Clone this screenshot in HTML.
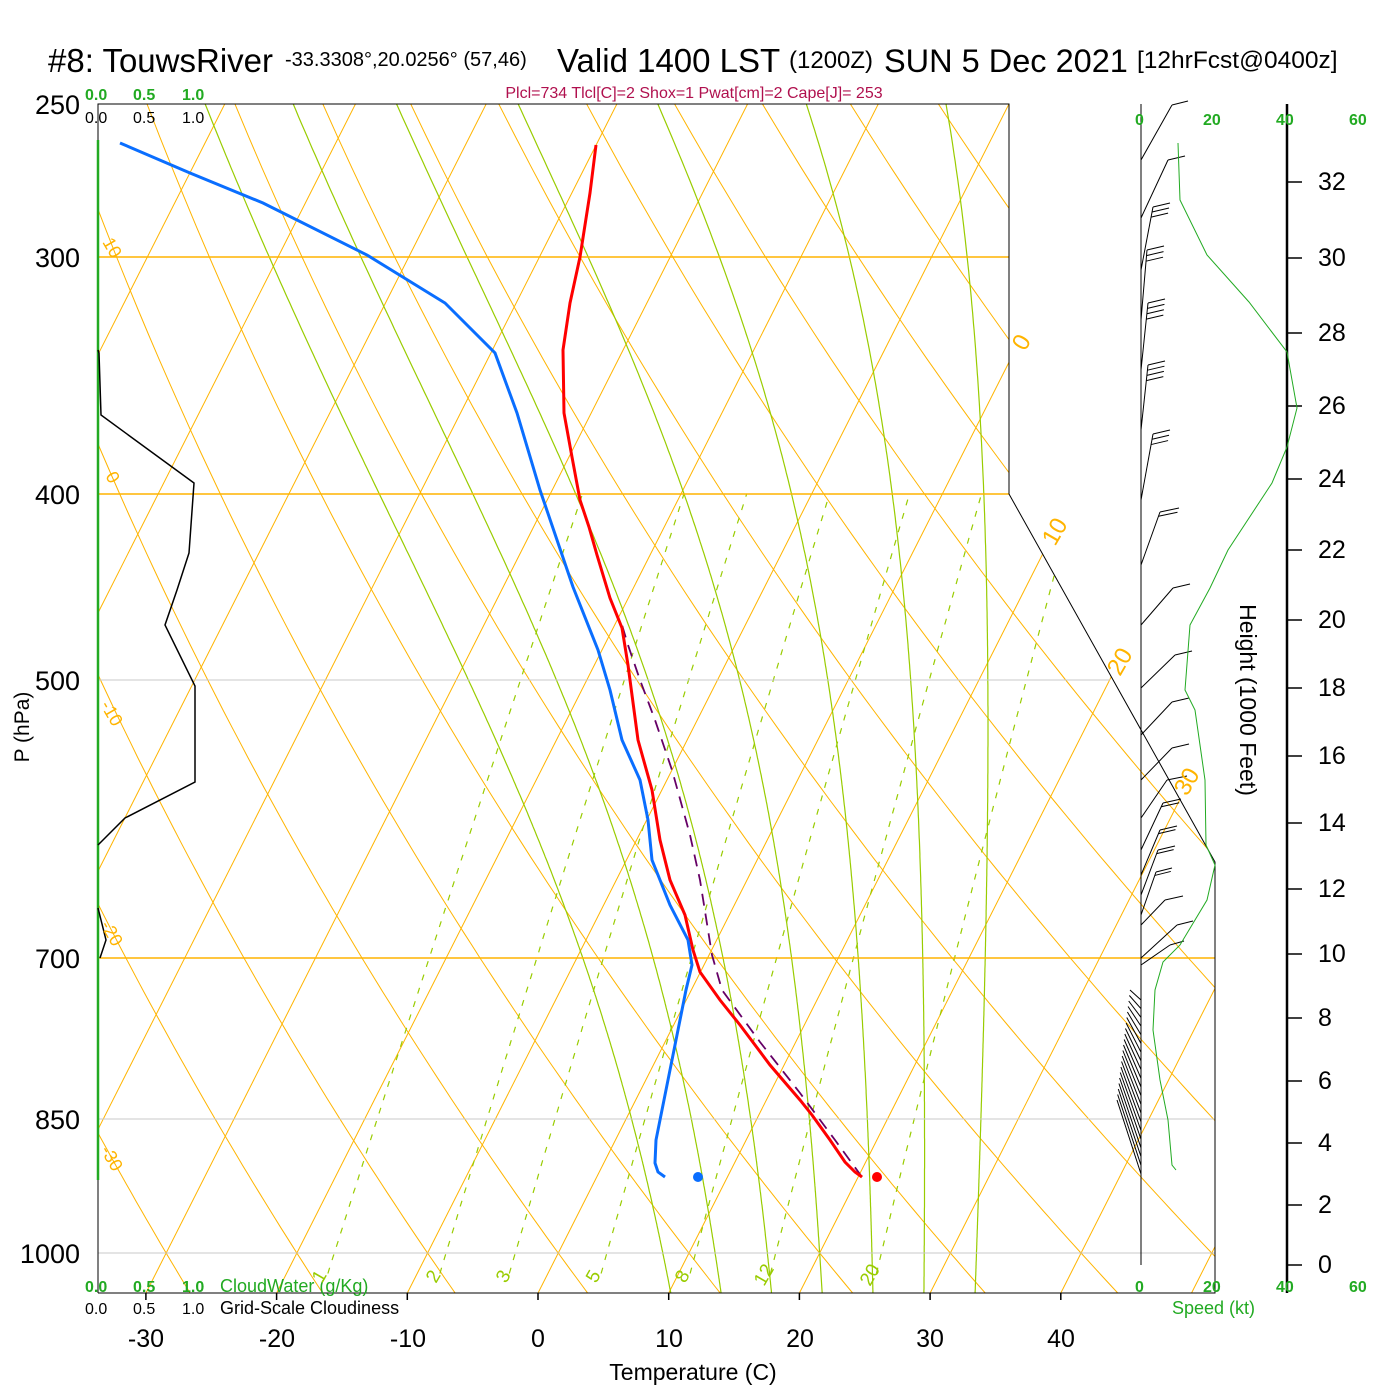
<!DOCTYPE html>
<html><head><meta charset="utf-8"><style>
html,body{margin:0;padding:0;background:#fff;}
svg{display:block;font-family:"Liberation Sans",Arial,sans-serif;}
</style></head><body>
<svg id="s" width="1400" height="1400" viewBox="0 0 1400 1400" xmlns="http://www.w3.org/2000/svg">
<defs><clipPath id="cp"><polygon points="98,104 1009,104 1009,494 1215,862 1215,1293 98,1293"/></clipPath></defs>
<rect width="1400" height="1400" fill="#fff"/>
<g id="bg" clip-path="url(#cp)" fill="none"></g>
<g stroke-width="1.5">
<line x1="98" y1="257" x2="1009" y2="257" stroke="#ffb400"/>
<line x1="98" y1="494" x2="1009" y2="494" stroke="#ffb400"/>
<line x1="98" y1="958" x2="1215" y2="958" stroke="#ffb400"/>
</g>
<g stroke="#c8c8c8" stroke-width="1">
<line x1="98" y1="680" x2="1110" y2="680"/>
<line x1="98" y1="1119" x2="1215" y2="1119"/>
<line x1="98" y1="1253" x2="1215" y2="1253"/>
</g>
<polyline points="98,1293 98,104 1009,104 1009,494 1215,862 1215,1293 98,1293" fill="none" stroke="#000" stroke-width="1"/>
<line x1="98" y1="140" x2="98" y2="1180" stroke="#22aa22" stroke-width="2.5"/>
<g stroke="#000" stroke-width="1.5" id="ticks"></g>
<polyline points="98,350 99,353 101,415 194,483 189,553 177,590 165,625 195,686 195,782 125,818 98,845" fill="none" stroke="#000" stroke-width="1.5"/>
<polyline points="98,908 106,940 100,958" fill="none" stroke="#000" stroke-width="1.5"/>
<polyline points="862,1177 835,1140 800,1093 760,1042 722,990 712,955 700,880 690,835 672,770 655,720 640,680 628,645 622,625" fill="none" stroke="#660066" stroke-width="1.8" stroke-dasharray="12,8"/>
<polyline points="596,145 590,193 580,257 570,303 563,350 564,413 572,457 580,500 589,527 597,555 610,598 622,628 628,665 638,740 652,790 660,840 670,880 685,915 693,950 700,972 720,1000 740,1025 770,1065 800,1100 812,1115 830,1140 845,1162 855,1172 862,1177" fill="none" stroke="#ff0000" stroke-width="3"/>
<polyline points="120,143 190,173 263,203 367,255 445,303 495,353 517,413 540,490 573,587 598,650 610,690 622,740 640,780 648,820 652,860 660,880 670,905 688,940 692,965 686,990 678,1030 670,1070 662,1110 656,1140 655,1163 658,1172 665,1177" fill="none" stroke="#0a6eff" stroke-width="3"/>
<circle cx="698" cy="1177" r="5" fill="#0a6eff"/>
<circle cx="877" cy="1177" r="5" fill="#ff0000"/>
<line x1="1141" y1="104" x2="1141" y2="1265" stroke="#000" stroke-width="1"/>
<line x1="1287" y1="104" x2="1287" y2="1293" stroke="#000" stroke-width="2.5"/>
<g id="hticks" stroke="#000" stroke-width="1.5"></g>
<g id="barbs" stroke="#000" stroke-width="1" fill="none"></g>
<polyline points="1178,143 1180,200 1207,255 1249,302 1287,352 1297,408 1287,447 1272,483 1228,550 1210,588 1190,625 1185,690 1195,710 1205,780 1206,845 1215,865 1207,900 1180,945 1163,962 1155,990 1153,1030 1160,1080 1168,1120 1172,1165 1176,1170" fill="none" stroke="#22aa22" stroke-width="1"/>
<g fill="#000">
<text x="48" y="72" font-size="33">#8: TouwsRiver</text>
<text x="285" y="66" font-size="20">-33.3308°,20.0256° (57,46)</text>
<text x="557" y="72" font-size="33">Valid 1400 LST</text>
<text x="789" y="68" font-size="24">(1200Z)</text>
<text x="884" y="72" font-size="32.5">SUN 5 Dec 2021</text>
<text x="1137" y="68" font-size="24.5">[12hrFcst@0400z]</text>
</g>
<g fill="#22aa22" font-size="16" font-weight="bold">
<text x="85" y="100">0.0</text><text x="133" y="100">0.5</text><text x="182" y="100">1.0</text>
<text x="85" y="1292">0.0</text><text x="133" y="1292">0.5</text><text x="182" y="1292">1.0</text>
<text x="220" y="1292" font-weight="normal" font-size="18">CloudWater (g/Kg)</text>
<text x="1135" y="125">0</text><text x="1203" y="125">20</text><text x="1276" y="125">40</text><text x="1349" y="125">60</text>
<text x="1135" y="1292">0</text><text x="1203" y="1292">20</text><text x="1276" y="1292">40</text><text x="1349" y="1292">60</text>
<text x="1172" y="1314" font-weight="normal" font-size="18">Speed (kt)</text>
</g>
<g fill="#000" font-size="16">
<text x="85" y="123">0.0</text><text x="133" y="123">0.5</text><text x="182" y="123">1.0</text>
<text x="85" y="1314">0.0</text><text x="133" y="1314">0.5</text><text x="182" y="1314">1.0</text>
<text x="220" y="1314" font-size="18">Grid-Scale Cloudiness</text>
</g>
<text x="694" y="98" font-size="16" fill="#b0104e" text-anchor="middle">Plcl=734 Tlcl[C]=2 Shox=1 Pwat[cm]=2 Cape[J]= 253</text>
<g font-size="27" fill="#000" text-anchor="end">
<text x="80" y="114">250</text><text x="80" y="267">300</text><text x="80" y="504">400</text>
<text x="80" y="690">500</text><text x="80" y="968">700</text><text x="80" y="1129">850</text><text x="80" y="1263">1000</text>
</g>
<text transform="translate(29,727) rotate(-90)" font-size="21" text-anchor="middle">P (hPa)</text>
<g font-size="25" fill="#000" text-anchor="middle">
<text x="146" y="1347">-30</text><text x="277" y="1347">-20</text><text x="408" y="1347">-10</text><text x="538" y="1347">0</text>
<text x="669" y="1347">10</text><text x="800" y="1347">20</text><text x="930" y="1347">30</text><text x="1061" y="1347">40</text>
</g>
<text x="693" y="1380" font-size="23" text-anchor="middle">Temperature (C)</text>
<text transform="translate(1240,700) rotate(90)" font-size="23" text-anchor="middle">Height (1000 Feet)</text>
<g fill="#ffb400" font-size="24">
<text transform="translate(1025,352) rotate(-60)">0</text>
<text transform="translate(1055,547) rotate(-60)">10</text>
<text transform="translate(1120,677) rotate(-60)">20</text>
<text transform="translate(1187,797) rotate(-60)">30</text>
</g>
<g fill="#ffb400" font-size="18">
<text transform="translate(102,242) rotate(60)">10</text>
<text transform="translate(105,476) rotate(60)">0</text>
<text transform="translate(100,705) rotate(60)">-10</text>
<text transform="translate(100,925) rotate(60)">-20</text>
<text transform="translate(100,1150) rotate(60)">-30</text>
</g>
<g fill="#99cc00" font-size="19">
<text transform="translate(322,1284) rotate(-60)">1</text>
<text transform="translate(436,1284) rotate(-60)">2</text>
<text transform="translate(506,1284) rotate(-60)">3</text>
<text transform="translate(596,1284) rotate(-60)">5</text>
<text transform="translate(685,1284) rotate(-60)">8</text>
<text transform="translate(764,1287) rotate(-60)">12</text>
<text transform="translate(870,1287) rotate(-60)">20</text>
</g>
</svg>
<script>
(function(){
var NS="http://www.w3.org/2000/svg";
function X(T,y){return 538+13.07*T+0.506*(1293-y);}
function Y(p){return 1253+828.9*Math.log(p/1000);}
function pl(par,pts,attrs){var e=document.createElementNS(NS,"polyline");e.setAttribute("points",pts.map(function(q){return q[0].toFixed(1)+","+q[1].toFixed(1)}).join(" "));for(var k in attrs)e.setAttribute(k,attrs[k]);par.appendChild(e);}
function ln(par,x1,y1,x2,y2){var e=document.createElementNS(NS,"line");e.setAttribute("x1",x1);e.setAttribute("y1",y1);e.setAttribute("x2",x2);e.setAttribute("y2",y2);par.appendChild(e);}
var bg=document.getElementById("bg");
var ptop=240,pbot=1060;
for(var T=-130;T<=60;T+=10){pl(bg,[[X(T,1300),1300],[X(T,100),100]],{stroke:"#ffb400","stroke-width":"1"});}
for(var th=-50;th<=220;th+=10){var a=[];for(var p=pbot;p>=ptop;p-=10){var t=(th+273.15)*Math.pow(p/1000,0.286)-273.15;a.push([X(t,Y(p)),Y(p)]);}pl(bg,a,{stroke:"#ffb400","stroke-width":"1"});}
function es(t){return 6.112*Math.exp(17.67*t/(t+243.5));}
function gam(t,p){var Tk=t+273.15,e=es(t),rs=0.622*e/(p-e),Rd=287,Lv=2.5e6,cp=1005;return (Rd*Tk+Lv*rs)/(cp+Lv*Lv*rs*0.622/(Rd*Tk*Tk))/p;}
for(var tw=8;tw<=32;tw+=4){var t=tw,p;var up=[];for(p=1000;p>=ptop;p-=2){up.push([X(t,Y(p)),Y(p)]);t-=gam(t,p)*2;}
var dn=[];t=tw;for(p=1000;p<=pbot;p+=2){t+=gam(t,p)*2;dn.unshift([X(t,Y(p+2)),Y(p+2)]);}
pl(bg,dn.concat(up),{stroke:"#99cc00","stroke-width":"1.2"});}
[1,2,3,5,8,12,20].forEach(function(w){var a=[];for(var p=1025;p>=400;p-=5){var e=w*p/(622+w),l=Math.log(e/6.112),t=243.5*l/(17.67-l);a.push([X(t,Y(p)),Y(p)]);}pl(bg,a,{stroke:"#99cc00","stroke-width":"1.2","stroke-dasharray":"6,8"});});
var tk=document.getElementById("ticks");for(var T=-30;T<=40;T+=10){var x=538+13.07*T;ln(tk,x,1293,x,1300);}
var hy={32:182,30:258,28:333,26:406,24:479,22:550,20:620,18:688,16:756,14:823,12:889,10:954,8:1018,6:1081,4:1143,2:1205,0:1265};
var ht=document.getElementById("hticks");
for(var h in hy){ln(ht,1287,hy[h],1302,hy[h]);}
var b=document.getElementById("barbs");
function barb(x0,y0,x1,y1,n,len){ln(b,x0,y0,x1,y1);var dx=x1-x0,dy=y1-y0;for(var i=0;i<n;i++){var f=1-i*0.08;var bx=x0+dx*f,by=y0+dy*f;ln(b,bx,by,bx+len,by-4);}}
barb(1141,160,1172,105,1,16);barb(1141,218,1168,160,1,17);barb(1141,270,1153,207,3,17);
barb(1141,320,1147,250,3,17);barb(1141,370,1148,303,4,17);barb(1141,430,1148,365,4,17);
barb(1141,500,1153,434,3,17);barb(1141,565,1160,512,2,19);barb(1141,625,1173,588,1,17);
barb(1141,688,1175,655,1,17);barb(1141,735,1172,702,1,17);barb(1141,780,1172,748,1,17);
barb(1141,818,1167,780,1,20);barb(1141,850,1163,803,2,18);barb(1141,875,1160,830,2,17);
barb(1141,895,1158,850,2,17);barb(1141,915,1156,872,2,16);barb(1141,925,1165,900,1,18);
barb(1141,958,1177,925,1,16);barb(1141,965,1170,945,1,14);
for(var i=0;i<=20;i++){var yb=1000+i*8.7;ln(b,1141,yb,1130-i*0.65,990+i*5.5);}
})();
</script>
<div style="position:absolute;left:0;top:0;width:1400px;height:1400px;pointer-events:none;font-family:'Liberation Sans',Arial,sans-serif;font-size:25px;">
<span style="position:absolute;left:1318px;top:168px">32</span>
<span style="position:absolute;left:1318px;top:244px">30</span>
<span style="position:absolute;left:1318px;top:319px">28</span>
<span style="position:absolute;left:1318px;top:392px">26</span>
<span style="position:absolute;left:1318px;top:465px">24</span>
<span style="position:absolute;left:1318px;top:536px">22</span>
<span style="position:absolute;left:1318px;top:606px">20</span>
<span style="position:absolute;left:1318px;top:674px">18</span>
<span style="position:absolute;left:1318px;top:742px">16</span>
<span style="position:absolute;left:1318px;top:809px">14</span>
<span style="position:absolute;left:1318px;top:875px">12</span>
<span style="position:absolute;left:1318px;top:940px">10</span>
<span style="position:absolute;left:1318px;top:1004px">8</span>
<span style="position:absolute;left:1318px;top:1067px">6</span>
<span style="position:absolute;left:1318px;top:1129px">4</span>
<span style="position:absolute;left:1318px;top:1191px">2</span>
<span style="position:absolute;left:1318px;top:1251px">0</span>
</div>
</body></html>
